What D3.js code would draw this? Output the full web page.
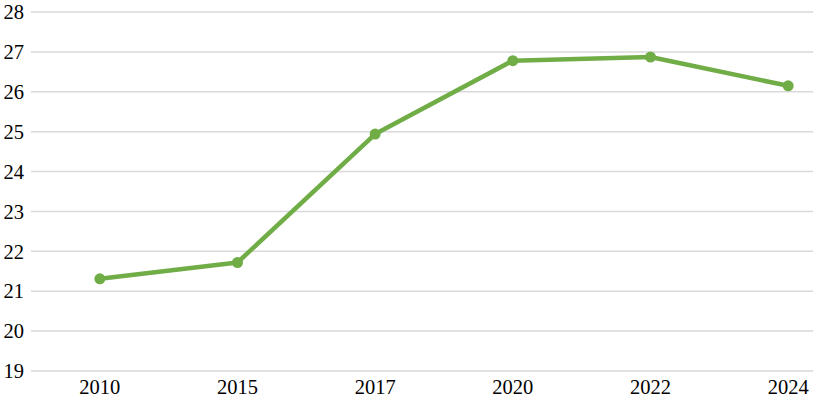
<!DOCTYPE html>
<html><head><meta charset="utf-8">
<script src="https://cdn.jsdelivr.net/npm/d3@7"></script>
<style>body{margin:0;background:#fff}svg{display:block}</style>
</head><body>
<svg id="c" width="813" height="401"></svg>
<script>
const categories = ["2010","2015","2017","2020","2022","2024"];
const values = [21.31, 21.72, 24.94, 26.78, 26.87, 26.15];
const yTicks = [19,20,21,22,23,24,25,26,27,28];

(function () {
const svg = d3.select("#c");
const mLeft = 31, mRight = 857, mTop = 12, mBottom = 371;
const x = d3.scaleBand().domain(categories).range([mLeft, mRight]);
const y = d3.scaleLinear().domain([19, 28]).range([mBottom, mTop]);
const font = "'Liberation Serif','Times New Roman',serif";

svg.append("g").selectAll("line").data(yTicks).join("line")
  .attr("x1", mLeft).attr("x2", 813)
  .attr("y1", d => y(d)).attr("y2", d => y(d))
  .attr("stroke", "#d9d9d9").attr("stroke-width", 1.5);

svg.append("g").selectAll("text").data(yTicks).join("text")
  .attr("x", 24).attr("y", d => y(d)).attr("dy", "0.35em")
  .attr("text-anchor", "end").attr("font-family", font).attr("font-size", 20.5)
  .attr("fill", "#000").text(d => d);

svg.append("g").selectAll("text").data(categories).join("text")
  .attr("x", d => x(d) + x.bandwidth() / 2).attr("y", 387).attr("dy", "0.35em")
  .attr("text-anchor", "middle").attr("font-family", font).attr("font-size", 20.5)
  .attr("fill", "#000").text(d => d);

const pts = categories.map((c, i) => [x(c) + x.bandwidth() / 2, y(values[i])]);
svg.append("path").attr("d", d3.line()(pts)).attr("fill", "none")
  .attr("stroke", "#70ad47").attr("stroke-width", 4.5).attr("stroke-linejoin", "round");
svg.append("g").selectAll("circle").data(pts).join("circle")
  .attr("cx", d => d[0]).attr("cy", d => d[1]).attr("r", 5.5).attr("fill", "#70ad47");
})();
</script>
</body></html>
